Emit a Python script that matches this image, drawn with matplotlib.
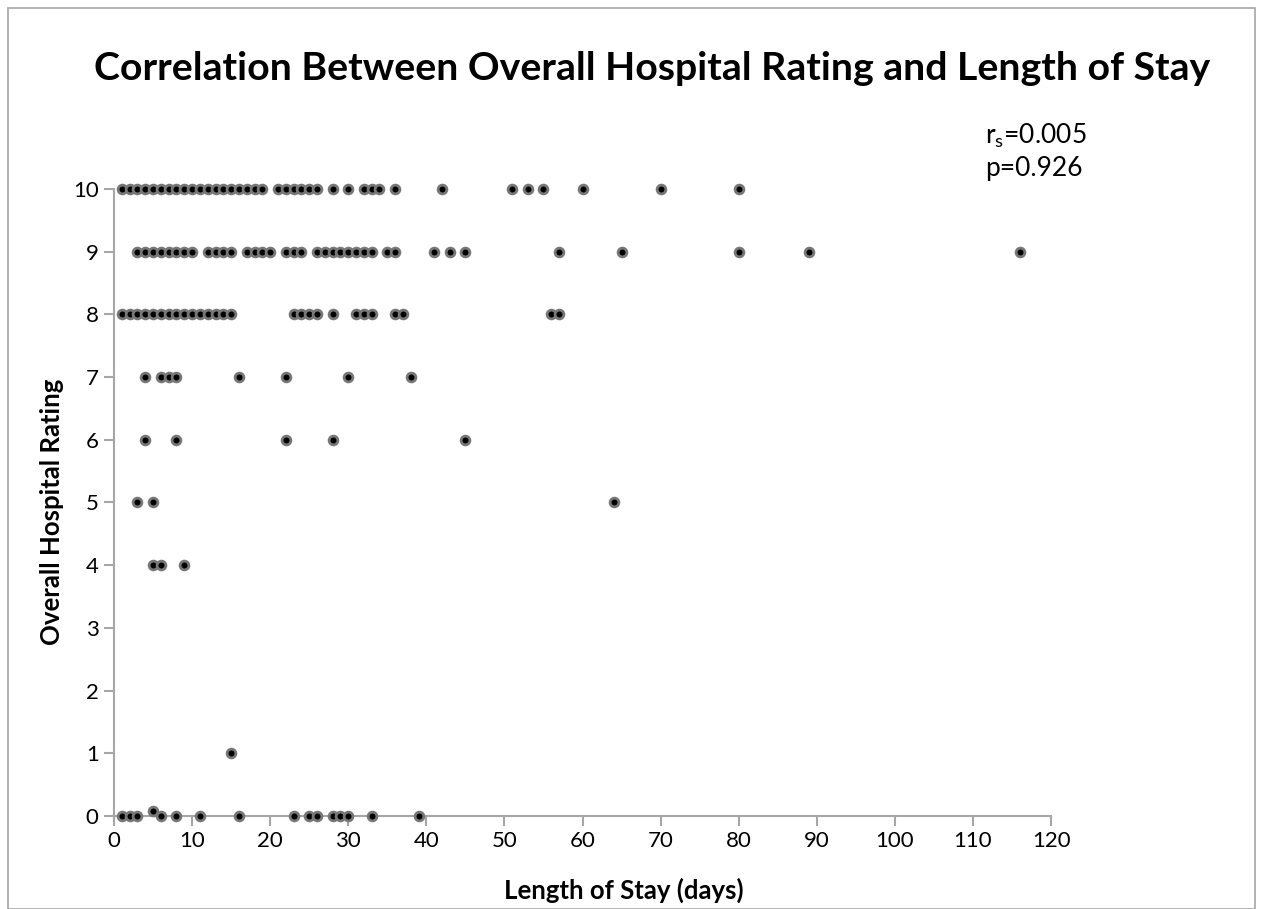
import matplotlib.pyplot as plt
from matplotlib.patches import Rectangle

plt.rcParams['font.family'] = ['Lato', 'DejaVu Sans']

# Length of stay (days) per rating level
stay_10 = list(range(1, 20)) + list(range(21, 27)) + [28, 30, 32, 33, 34, 36, 42, 51, 53, 55, 60, 70, 80]
stay_9 = list(range(3, 11)) + list(range(12, 16)) + list(range(17, 21)) + [22, 23, 24] + list(range(26, 34)) + \
    [35, 36, 41, 43, 45, 57, 65, 80, 89, 116]
stay_8 = list(range(1, 16)) + [23, 24, 25, 26, 28, 31, 32, 33, 36, 37, 56, 57]
stay_7 = [4, 6, 7, 8, 16, 22, 30, 38]
stay_6 = [4, 8, 22, 28, 45]
stay_5 = [3, 5, 64]
stay_4 = [5, 6, 9]
stay_1 = [15]
stay_0 = [1, 2, 3, 6, 8, 11, 16, 23, 25, 26, 28, 29, 30, 33, 39]
odd_x = [5]
odd_y = [0.08]

rows = [(10, stay_10), (9, stay_9), (8, stay_8), (7, stay_7), (6, stay_6),
        (5, stay_5), (4, stay_4), (1, stay_1), (0, stay_0)]
xs, ys = [], []
for r, vals in rows:
    xs += vals
    ys += [r] * len(vals)
xs += odd_x
ys += odd_y

fig = plt.figure(figsize=(12.64, 9.09), dpi=100)
ax = fig.add_axes([0.0902, 0.1023, 0.7413, 0.6898])

ax.scatter(xs, ys, s=40, facecolor='black', edgecolor='#777777', linewidth=2.0, clip_on=False, zorder=3)

ax.set_xlim(0, 120)
ax.set_ylim(0, 10)
ax.set_xticks(range(0, 121, 10))
ax.set_yticks(range(0, 11))
for s in ['top', 'right']:
    ax.spines[s].set_visible(False)
for s in ['left', 'bottom']:
    ax.spines[s].set_color('#a6a6a6')
    ax.spines[s].set_linewidth(1.5)
ax.tick_params(direction='out', length=7, width=1.5, color='#a6a6a6', labelsize=16, pad=4)

ax.set_xlabel('Length of Stay (days)', fontsize=18.5, fontweight='bold', va='center')
ax.set_ylabel('Overall Hospital Rating', fontsize=18.5, fontweight='bold', va='center')
ax.xaxis.set_label_coords(0.544, -0.119)
ax.yaxis.set_label_coords(-0.066, 0.485)

fig.text(0.516, 0.925, 'Correlation Between Overall Hospital Rating and Length of Stay',
         ha='center', va='center', fontsize=28.3, fontweight='bold')
fig.text(0.779, 0.851, r'r$_\mathregular{s}$=0.005', fontsize=19, va='center', ha='left')
fig.text(0.779, 0.815, 'p=0.926', fontsize=19, va='center', ha='left')

fig.patches.append(Rectangle((0.0063, 0.0), 0.9866, 0.991, transform=fig.transFigure,
                             fill=False, edgecolor='#a6a6a6', linewidth=1.2))

fig.savefig('out.png', dpi=100)
